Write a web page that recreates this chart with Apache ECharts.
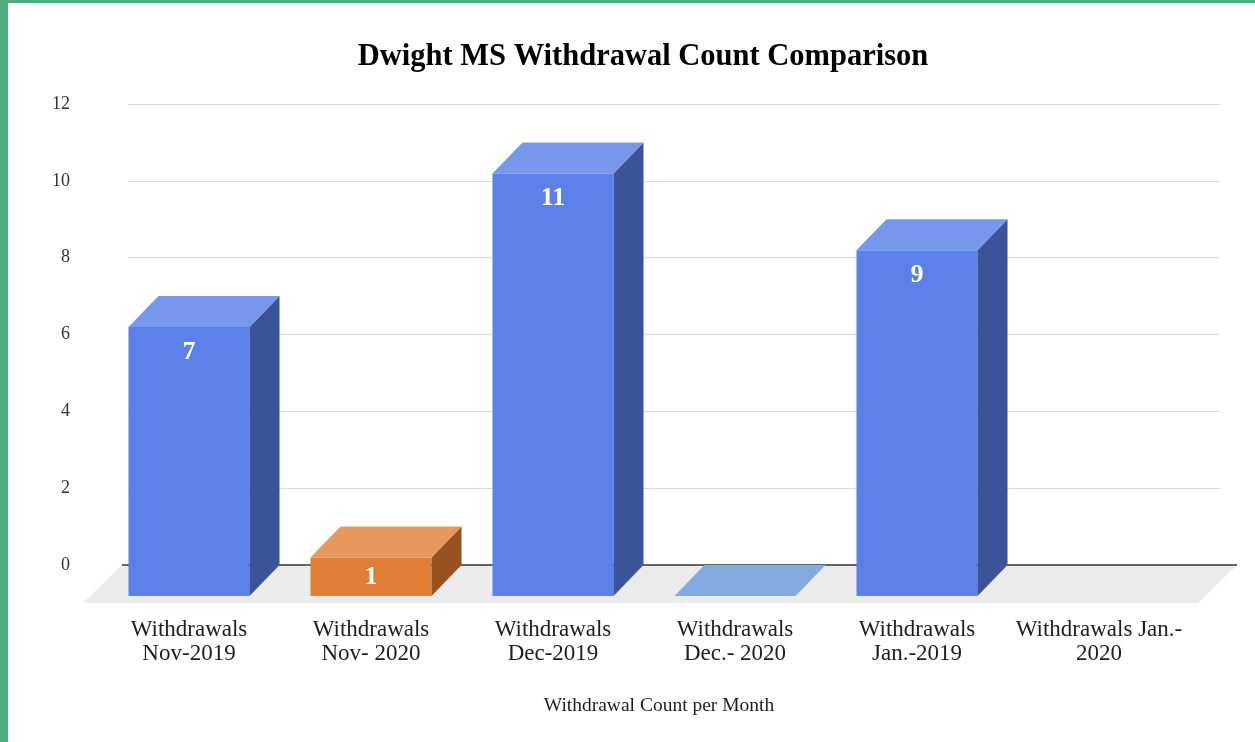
<!DOCTYPE html>
<html>
<head>
<meta charset="utf-8">
<title>Dwight MS Withdrawal Count Comparison</title>
<script src="https://cdn.jsdelivr.net/npm/echarts@6/dist/echarts.min.js"></script>
<style>
  html, body { margin: 0; padding: 0; background: #fff; }
  #chart { width: 1255px; height: 742px; }
</style>
</head>
<body>
<div id="chart"></div>
<script>
// data
const categories = [
  'Withdrawals\nNov-2019',
  'Withdrawals\nNov- 2020',
  'Withdrawals\nDec-2019',
  'Withdrawals\nDec.- 2020',
  'Withdrawals\nJan.-2019',
  'Withdrawals Jan.-\n2020'
];
const withdrawals = [7, 1, 11, 0, 9, null];
const yTicks = [0, 2, 4, 6, 8, 10, 12];

// styles (one per bar)
const blue = { front: '#5b80e8', top: '#7697ec', side: '#3b5398' };
const barColors = [
  blue,
  { front: '#e27d35', top: '#e8975d', side: '#98521f' },
  blue,
  { front: '#84abdf', top: '#84abdf', side: '#5f7fb0' },
  blue,
  blue
];

const FONT = 'Liberation Serif';
const DX = 30, DY = 31;   // depth of the bars
const FDX = 39, FDY = 38; // depth of the floor

function renderFloor(params, api) {
  const cs = params.coordSys;
  const y0 = api.coord([0, 0])[1];
  const x0 = cs.x - 6, x1 = cs.x + cs.width + 17;
  return {
    type: 'group',
    children: [
      {
        type: 'polygon',
        shape: { points: [[x0, y0], [x1, y0], [x1 - FDX, y0 + FDY], [x0 - FDX, y0 + FDY]] },
        style: { fill: '#ebebeb' }
      },
      {
        type: 'line',
        shape: { x1: x0, y1: y0, x2: x1, y2: y0 },
        style: { stroke: '#333', lineWidth: 1.5 }
      }
    ]
  };
}

function renderBar(params, api) {
  const v = api.value(1);
  if (v == null || isNaN(v)) return null;
  const idx = api.value(0);
  const top = api.coord([idx, v]);
  const base = api.coord([idx, 0]);
  const w = api.size([1, 0])[0] * 0.665;
  const c = barColors[idx];
  const l = top[0] - DX - w / 2, r = l + w;
  const ft = top[1] + DY, fb = base[1] + DY;
  const children = [];
  if (fb - ft > 0.5) {
    children.push({
      type: 'rect',
      shape: { x: l, y: ft, width: w, height: fb - ft },
      style: { fill: c.front }
    });
    children.push({
      type: 'polygon',
      shape: { points: [[r, ft], [r + DX, ft - DY], [r + DX, fb - DY], [r, fb]] },
      style: { fill: c.side }
    });
  }
  children.push({
    type: 'polygon',
    shape: { points: [[l, ft], [r, ft], [r + DX, ft - DY], [l + DX, ft - DY]] },
    style: { fill: c.top }
  });
  if (v > 0) {
    children.push({
      type: 'text',
      style: {
        text: String(v),
        x: l + w / 2,
        y: Math.min(ft + 25, (ft + fb) / 2),
        fill: '#fff',
        font: 'bold 26px "' + FONT + '"',
        align: 'center',
        verticalAlign: 'middle',
        textAlign: 'center',
        textVerticalAlign: 'middle'
      }
    });
  }
  return { type: 'group', children: children };
}

const chart = echarts.init(document.getElementById('chart'));

const option = {
  backgroundColor: '#fff',
  animation: false,
  title: {
    text: 'Dwight MS Withdrawal Count Comparison',
    left: 638,
    textAlign: 'center',
    top: 37,
    textStyle: { fontFamily: FONT, fontSize: 30.5, fontWeight: 'bold', color: '#000' }
  },
  graphic: [
    { type: 'rect', shape: { x: 0, y: 0, width: 8, height: 742 }, style: { fill: '#4fac7c' } },
    { type: 'rect', shape: { x: 0, y: 0, width: 1255, height: 3 }, style: { fill: '#4fac7c' } }
  ],
  grid: [
    { left: 128, right: 35, top: 104, bottom: 177 },
    { left: 98, right: 65, top: 135, bottom: 146 }
  ],
  xAxis: [
    {
      type: 'category',
      gridIndex: 0,
      data: categories,
      axisLine: { show: false },
      axisTick: { show: false },
      axisLabel: { show: false }
    },
    {
      type: 'category',
      gridIndex: 1,
      data: categories,
      axisLine: { show: false },
      axisTick: { show: false },
      axisLabel: {
        interval: 0,
        margin: 22,
        fontFamily: FONT,
        fontSize: 23,
        lineHeight: 24,
        color: '#1e1e1e'
      },
      name: 'Withdrawal Count per Month',
      nameLocation: 'middle',
      nameGap: 100,
      nameTextStyle: { fontFamily: FONT, fontSize: 19.5, color: '#1e1e1e', padding: [0, 0, 0, 30] }
    }
  ],
  yAxis: [
    {
      type: 'value',
      gridIndex: 0,
      min: yTicks[0],
      max: yTicks[yTicks.length - 1],
      interval: yTicks[1] - yTicks[0],
      axisLine: { show: false },
      axisTick: { show: false },
      axisLabel: { margin: 58, fontFamily: FONT, fontSize: 18, color: '#333' },
      splitLine: { lineStyle: { color: '#dadada', width: 1 } }
    },
    {
      type: 'value',
      gridIndex: 1,
      show: false,
      min: yTicks[0],
      max: yTicks[yTicks.length - 1],
      splitLine: { show: false }
    }
  ],
  series: [
    {
      name: 'floor',
      type: 'custom',
      xAxisIndex: 0,
      yAxisIndex: 0,
      renderItem: renderFloor,
      data: [[0, 0]],
      z: 1,
      silent: true
    },
    {
      name: 'Withdrawals',
      type: 'custom',
      xAxisIndex: 0,
      yAxisIndex: 0,
      renderItem: renderBar,
      encode: { x: 0, y: 1 },
      data: withdrawals.map((v, i) => [i, v]),
      z: 3
    }
  ]
};

chart.setOption(option);
window.addEventListener('resize', () => chart.resize());
</script>
</body>
</html>
